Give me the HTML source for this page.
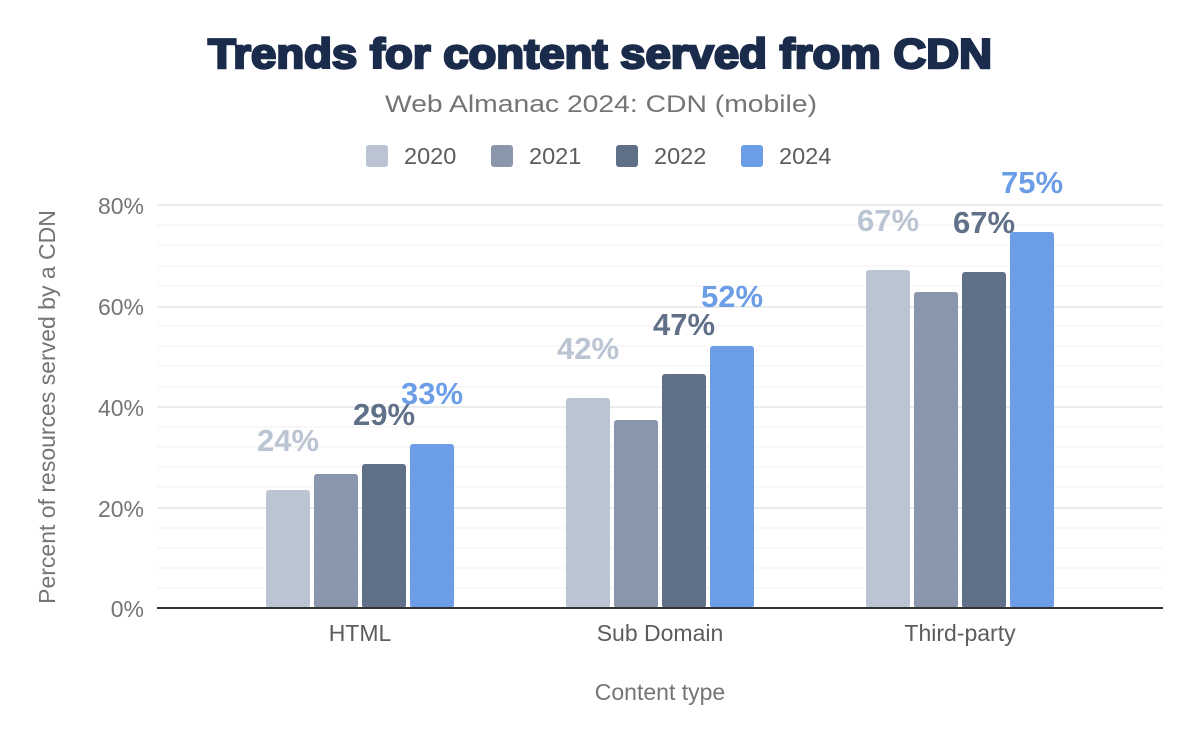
<!DOCTYPE html><html><head><style>body{margin:0;background:#fff}svg{display:block;font-family:"Liberation Sans",Arial,sans-serif}</style></head><body>
<svg width="1200" height="742" viewBox="0 0 1200 742">
<text x="600" y="68" text-anchor="middle" font-size="42" font-weight="900" fill="#1a2b4b" stroke="#1a2b4b" stroke-width="2.4" textLength="784" lengthAdjust="spacingAndGlyphs">Trends for content served from CDN</text>
<text x="601" y="112" text-anchor="middle" font-size="24" fill="#757575" textLength="432" lengthAdjust="spacingAndGlyphs">Web Almanac 2024: CDN (mobile)</text>
<g font-size="23.5" fill="#5c5c5c">
<rect x="366" y="145" width="22" height="22" rx="3" fill="#bac4d2"/><text x="404" y="164">2020</text>
<rect x="491" y="145" width="22" height="22" rx="3" fill="#8a96ac"/><text x="529" y="164">2021</text>
<rect x="616" y="145" width="22" height="22" rx="3" fill="#617089"/><text x="654" y="164">2022</text>
<rect x="741" y="145" width="22" height="22" rx="3" fill="#6c9ee8"/><text x="779" y="164">2024</text>
</g>
<g stroke="#f5f5f5" stroke-width="1.5">
<line x1="157" x2="1163" y1="225" y2="225"/><line x1="157" x2="1163" y1="245" y2="245"/><line x1="157" x2="1163" y1="266" y2="266"/><line x1="157" x2="1163" y1="286" y2="286"/>
<line x1="157" x2="1163" y1="326" y2="326"/><line x1="157" x2="1163" y1="346" y2="346"/><line x1="157" x2="1163" y1="366" y2="366"/><line x1="157" x2="1163" y1="387" y2="387"/>
<line x1="157" x2="1163" y1="427" y2="427"/><line x1="157" x2="1163" y1="447" y2="447"/><line x1="157" x2="1163" y1="467" y2="467"/><line x1="157" x2="1163" y1="487" y2="487"/>
<line x1="157" x2="1163" y1="528" y2="528"/><line x1="157" x2="1163" y1="548" y2="548"/><line x1="157" x2="1163" y1="568" y2="568"/><line x1="157" x2="1163" y1="588" y2="588"/>
</g>
<g stroke="#ececec" stroke-width="2">
<line x1="157" x2="1163" y1="205" y2="205"/><line x1="157" x2="1163" y1="307" y2="307"/><line x1="157" x2="1163" y1="407" y2="407"/><line x1="157" x2="1163" y1="508" y2="508"/>
</g>
<g font-size="23" fill="#757575" text-anchor="end">
<text x="144" y="214">80%</text><text x="144" y="315">60%</text><text x="144" y="416">40%</text><text x="144" y="517">20%</text><text x="144" y="617">0%</text>
</g>
<text transform="translate(55,407) rotate(-90)" text-anchor="middle" font-size="23" fill="#757575">Percent of resources served by a CDN</text>
<g>
<rect x="266" y="490" width="44" height="118" rx="3" fill="#bac4d2"/>
<rect x="314" y="474" width="44" height="134" rx="3" fill="#8a96ac"/>
<rect x="362" y="464" width="44" height="144" rx="3" fill="#617089"/>
<rect x="410" y="444" width="44" height="164" rx="3" fill="#6c9ee8"/>
<rect x="566" y="398" width="44" height="210" rx="3" fill="#bac4d2"/>
<rect x="614" y="420" width="44" height="188" rx="3" fill="#8a96ac"/>
<rect x="662" y="374" width="44" height="234" rx="3" fill="#617089"/>
<rect x="710" y="346" width="44" height="262" rx="3" fill="#6c9ee8"/>
<rect x="866" y="270" width="44" height="338" rx="3" fill="#bac4d2"/>
<rect x="914" y="292" width="44" height="316" rx="3" fill="#8a96ac"/>
<rect x="962" y="272" width="44" height="336" rx="3" fill="#617089"/>
<rect x="1010" y="232" width="44" height="376" rx="3" fill="#6c9ee8"/>
</g>
<g font-size="31" font-weight="bold" text-anchor="middle">
<text x="288" y="451" fill="#bac4d2">24%</text><text x="384" y="425" fill="#617089">29%</text><text x="432" y="404" fill="#6c9ee8">33%</text>
<text x="588" y="359" fill="#bac4d2">42%</text><text x="684" y="335" fill="#617089">47%</text><text x="732" y="307" fill="#6c9ee8">52%</text>
<text x="888" y="231" fill="#bac4d2">67%</text><text x="984" y="233" fill="#617089">67%</text><text x="1032" y="193" fill="#6c9ee8">75%</text>
</g>
<line x1="157" x2="1163" y1="608" y2="608" stroke="#333" stroke-width="2"/>
<g font-size="23" fill="#5c5c5c" text-anchor="middle">
<text x="360" y="641">HTML</text><text x="660" y="641">Sub Domain</text><text x="960" y="641">Third-party</text>
</g>
<text x="660" y="700" text-anchor="middle" font-size="23" fill="#757575">Content type</text>
</svg></body></html>
